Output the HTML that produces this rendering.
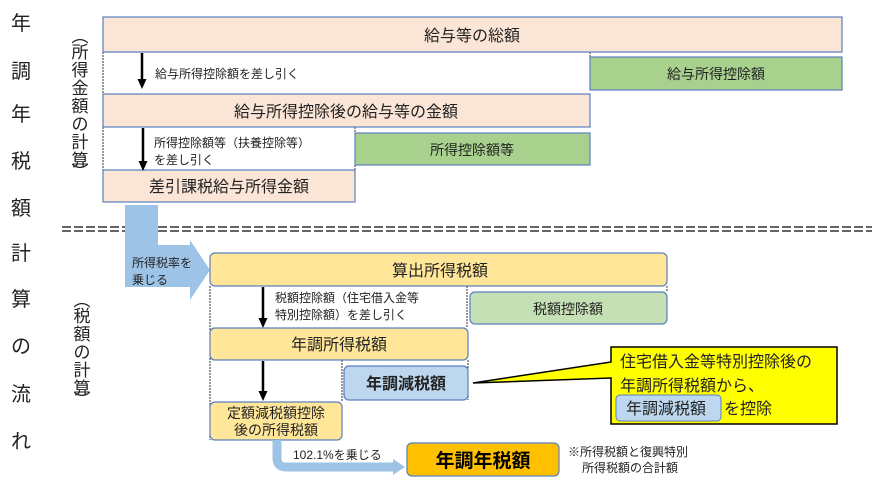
<!DOCTYPE html>
<html><head><meta charset="utf-8"><style>
body{margin:0;background:#fff}
svg text{font-family:"Liberation Sans","Noto Sans CJK JP",sans-serif;fill:#222}
</style></head><body>
<svg width="880" height="483" viewBox="0 0 880 483" xmlns="http://www.w3.org/2000/svg">
<!-- left title -->
<g font-size="20" text-anchor="middle">
<text x="21" y="30">年</text><text x="21" y="78">調</text><text x="21" y="121">年</text><text x="21" y="168">税</text><text x="21" y="215">額</text><text x="21" y="260">計</text><text x="21" y="306">算</text><text x="21" y="353">の</text><text x="21" y="401">流</text><text x="21" y="448">れ</text>
</g>
<g font-size="17" text-anchor="middle">
<text x="80" y="42">︵</text>
<text x="80" y="58">所</text><text x="80" y="76">得</text><text x="80" y="94">金</text><text x="80" y="112">額</text><text x="80" y="130">の</text><text x="80" y="148">計</text><text x="80" y="166">算</text>
<text x="80" y="178">︶</text>
<text x="82" y="306">︵</text>
<text x="82" y="322">税</text><text x="82" y="340">額</text><text x="82" y="358">の</text><text x="82" y="376">計</text><text x="82" y="394">算</text>
<text x="82" y="406">︶</text>
</g>
<!-- dotted guides -->
<g stroke="#333" stroke-width="1" stroke-dasharray="2,1" fill="none">
<path d="M103 52V94M103 127V202M590 52V57M355 127V133M355 165V170M210 286V440M467 286V328M667 286V292M342 360V402M468 360V400"/>
</g>
<!-- top section boxes -->
<g stroke="#5a7fbf" stroke-width="1.2">
<rect x="103" y="17" width="739" height="35" fill="#fbe5d6"/>
<rect x="590" y="57" width="252" height="33" fill="#a9d18e"/>
<rect x="103" y="94" width="487" height="33" fill="#fbe5d6"/>
<rect x="355" y="133" width="235" height="32" fill="#a9d18e"/>
<rect x="103" y="170" width="252" height="32" fill="#fbe5d6"/>
</g>
<g text-anchor="middle" font-size="16">
<text x="472" y="41">給与等の総額</text>
<text x="716" y="79" font-size="14">給与所得控除額</text>
<text x="346" y="117">給与所得控除後の給与等の金額</text>
<text x="472" y="155" font-size="14">所得控除額等</text>
<text x="229" y="192">差引課税給与所得金額</text>
</g>
<g stroke="#000" stroke-width="2.5">
<line x1="142" y1="53" x2="142" y2="80"/>
<line x1="143" y1="128" x2="143" y2="162"/>
<line x1="263" y1="287" x2="263" y2="319"/>
<line x1="263" y1="361" x2="263" y2="392"/>
</g>
<g fill="#000">
<path d="M137.5 79H146.5L142 89Z"/>
<path d="M138.5 161H147.5L143 171Z"/>
<path d="M258.5 318H267.5L263 328Z"/>
<path d="M258.5 391H267.5L263 401Z"/>
</g>
<g font-size="12">
<text x="155" y="78">給与所得控除額を差し引く</text>
<text x="154" y="147">所得控除額等（扶養控除等）</text>
<text x="154" y="164">を差し引く</text>
<text x="275" y="302">税額控除額（住宅借入金等</text>
<text x="275" y="319">特別控除額）を差し引く</text>
</g>
<!-- dashed divider -->
<g stroke="#333" stroke-width="1.6" stroke-dasharray="9,3">
<line x1="62" y1="227" x2="872" y2="227"/>
<line x1="62" y1="231" x2="872" y2="231"/>
</g>
<!-- blue arrow -->
<path d="M125 205H158V245H190V240L210 270L190 300V287H125Z" fill="#9dc3e6"/>
<g font-size="12"><text x="132" y="267">所得税率を</text><text x="132" y="284">乗じる</text></g>
<!-- bottom boxes -->
<g stroke="#5a7fbf" stroke-width="1.2">
<rect x="210" y="253" width="457" height="33" rx="5" fill="#ffe699"/>
<rect x="470" y="292" width="197" height="32" rx="5" fill="#c5e0b4"/>
<rect x="210" y="328" width="258" height="32" rx="5" fill="#ffe699"/>
<rect x="344" y="366" width="124" height="34" rx="5" fill="#bdd7ee"/>
<rect x="210" y="402" width="132" height="38" rx="5" fill="#ffe699"/>
<rect x="407" y="443" width="152" height="33" rx="5" fill="#ffc000"/>
</g>
<g text-anchor="middle" font-size="16">
<text x="440" y="276">算出所得税額</text>
<text x="568" y="314" font-size="14">税額控除額</text>
<text x="339" y="350">年調所得税額</text>
<text x="406" y="389" font-weight="bold">年調減税額</text>
<text x="276" y="418" font-size="14">定額減税額控除</text>
<text x="276" y="435" font-size="14">後の所得税額</text>
<text x="483" y="467" font-size="19" font-weight="bold" style="fill:#000">年調年税額</text>
</g>
<!-- L arrow -->
<path d="M277 440V458Q277 467 286 467H395" fill="none" stroke="#9dc3e6" stroke-width="9"/>
<path d="M393 459L405 467L393 475Z" fill="#9dc3e6"/>
<text x="293" y="459" font-size="12">102.1%を乗じる</text>
<g font-size="12"><text x="568" y="456">※所得税額と復興特別</text><text x="582" y="472">所得税額の合計額</text></g>
<!-- callout -->
<path d="M611 347H837V424H611V378L473 383L611 362Z" fill="#ffff00" stroke="#000" stroke-width="1.5"/>
<rect x="616" y="395" width="105" height="26" rx="4" fill="#bdd7ee" stroke="#5a7fbf"/>
<g font-size="16"><text x="620" y="367">住宅借入金等特別控除後の</text><text x="620" y="391">年調所得税額から、</text><text x="626" y="414">年調減税額</text><text x="724" y="414">を控除</text></g>
</svg>
</body></html>
